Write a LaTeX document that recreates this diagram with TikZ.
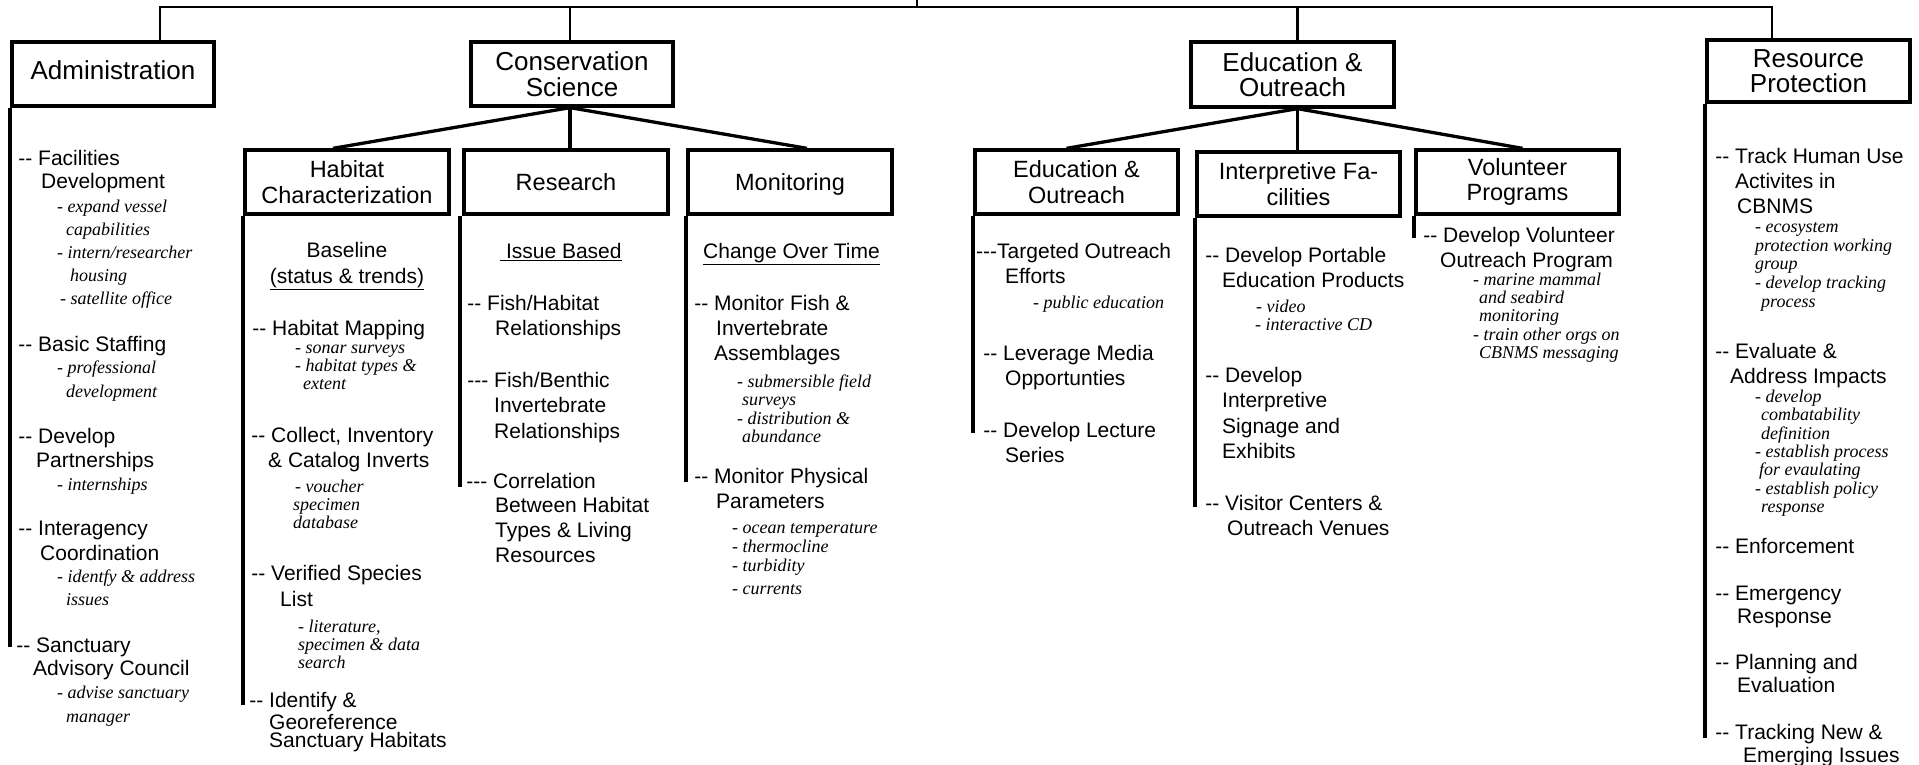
\documentclass[tikz,border=0pt]{standalone}
\usepackage{fontspec}
\setmainfont{Liberation Sans}
\newfontfamily\notefont{Liberation Serif}
\begin{document}
\begin{tikzpicture}[x=1pt,y=-1pt,
  ttl/.style={draw, line width=3.3pt, inner sep=0pt, align=center, font=\fontsize{26}{25.5}\selectfont},
  sttl/.style={draw, line width=3.3pt, inner sep=0pt, align=center, minimum width=203pt, minimum height=64pt, font=\fontsize{23.5}{25.5}\selectfont},
  itm/.style={anchor=north west, inner sep=0pt, align=left, font=\fontsize{21}{#1}\selectfont, yshift={0.7*#1*1pt}},
  itm/.default=25,
  hd/.style={anchor=north, inner sep=0pt, align=center, font=\fontsize{21}{#1}\selectfont, yshift={0.7*#1*1pt}},
  hd/.default=26,
  note/.style={anchor=north west, inner sep=0pt, align=left, font=\notefont\itshape\fontsize{18}{#1}\selectfont, yshift={0.7*#1*1pt}},
  note/.default=18.5,
  conn/.style={line width=3.3pt},
  drop/.style={line width=2.8pt},
  stem/.style={line width=4.2pt},
  topline/.style={line width=2.8pt}]
\useasboundingbox (0,0) rectangle (1919,765);

% ---------- top level boxes
\node[ttl, minimum width=202pt, minimum height=64pt, text height=18.6pt, text depth=8pt] (adm) at (113,74) {Administration};
\node[ttl, minimum width=202pt, minimum height=64pt] (cons) at (572,74) {Conservation\\Science};
\node[ttl, minimum width=203pt, minimum height=65pt] (edu) at (1292.5,74.5) {Education \&\\Outreach};
\node[ttl, minimum width=203pt, minimum height=62pt] (rp) at (1808.5,71) {Resource\\Protection};

% ---------- second level boxes
\node[sttl, minimum width=204pt] (hab) at (347,182) {Habitat\\Characterization};
\node[sttl, minimum width=204pt] (res) at (566,182) {Research};
\node[sttl, minimum width=204pt, text height=16.8pt, text depth=0pt] (mon) at (790,182) {Monitoring};
\node[sttl] (edus) at (1076.5,182) {Education \&\\Outreach};
\node[sttl] (int) at (1298.5,184) {Interpretive Fa-\\cilities};
\node[sttl] (vol) at (1517.5,182) {Volunteer\\Programs};

% ---------- top connector
\coordinate (tstub) at (917,0);
\coordinate (tj) at (917,7);
\coordinate (tl) at (160,7);
\coordinate (tr) at (1772,7);
\draw[topline, line cap=rect] (tl) -- (tr);
\draw[drop] (tstub) -- (tj);
\draw[drop] (tl) -- (tl |- adm.north);
\draw[drop] ([xshift=-2pt]cons.north |- tl) -- ([xshift=-2pt]cons.north);
\draw[drop] ([xshift=5pt]edu.north |- tl) -- ([xshift=5pt]edu.north);
\draw[drop] (tr) -- (tr |- rp.north);

% ---------- branches
\draw[conn] ([xshift=-2pt]cons.south) -- ([xshift=-14pt]hab.north);
\draw[conn] ([xshift=-2pt]cons.south) -- ([xshift=-2pt]cons.south |- res.north);
\draw[conn] ([xshift=-2pt]cons.south) -- ([xshift=17pt]mon.north);
\draw[conn] ([xshift=5pt]edu.south) -- ([xshift=-10pt]edus.north);
\draw[conn] ([xshift=5pt]edu.south) -- ([xshift=5pt]edu.south |- int.north);
\draw[conn] ([xshift=5pt]edu.south) -- ([xshift=5pt]vol.north);

% ---------- stems
\coordinate (admE) at (0,647);
\coordinate (habE) at (0,705);
\coordinate (resE) at (0,487);
\coordinate (monE) at (0,482);
\coordinate (edusE) at (0,433);
\coordinate (intE) at (0,507);
\coordinate (volE) at (0,238);
\coordinate (rpE) at (0,738);
\draw[stem] (adm.south west) -- (adm.south west |- admE);
\draw[stem] (hab.south west) -- (hab.south west |- habE);
\draw[stem] ([xshift=-2pt]res.south west) -- ([xshift=-2pt]res.south west |- resE);
\draw[stem] (mon.south west) -- (mon.south west |- monE);
\draw[stem] (edus.south west) -- (edus.south west |- edusE);
\draw[stem] (int.south west) -- (int.south west |- intE);
\draw[stem] (vol.south west) -- (vol.south west |- volE);
\draw[stem] (rp.south west) -- (rp.south west |- rpE);

% ---------- Administration
\node[itm=23.5] (a1) at (38,165) {\strut\llap{-{}- }Facilities\\\hspace{3pt}Development};
\node[note=23] (a1n) at (57,212) {\strut- expand vessel\\\hspace{9pt}capabilities\\- intern/researcher\\\hspace{13pt}housing\\\hspace{3pt}- satellite office};
\node[itm] (a2) at (38,351) {\strut\llap{-{}- }Basic Staffing};
\node[note=24] (a2n) at (57,373) {\strut- professional\\\hspace{9pt}development};
\node[itm=24] (a3) at (38,443) {\strut\llap{-{}- }Develop\\\hspace{-2pt}Partnerships};
\node[note] (a3n) at (57,490) {\strut- internships};
\node[itm] (a4) at (38,535) {\strut\llap{-{}- }Interagency\\\hspace{2pt}Coordination};
\node[note=23] (a4n) at (57,582) {\strut- identfy \& address\\\hspace{9pt}issues};
\node[itm=23] (a5) at (36,652) {\strut\llap{-{}- }Sanctuary\\\hspace{-3pt}Advisory Council};
\node[note=24] (a5n) at (57,698) {\strut- advise sanctuary\\\hspace{9pt}manager};

% ---------- Habitat Characterization
\node[hd] (hb) at (347,257) {\strut Baseline\\\underline{(status \& trends)}};
\node[itm] (h1) at (272,335) {\strut\llap{-{}- }Habitat Mapping};
\node[note=18] (h1n) at (295,353) {\strut- sonar surveys\\- habitat types \&\\\hspace{8pt}extent};
\node[itm] (h2) at (271,442) {\strut\llap{-{}- }Collect, Inventory\\\hspace{-3pt}\& Catalog Inverts};
\node[note=18] (h2n) at (295,492) {\strut- voucher\\\hspace{-2pt}specimen\\\hspace{-2pt}database};
\node[itm=26] (h3) at (271,580) {\strut\llap{-{}- }Verified Species\\\hspace{9pt}List};
\node[note=18] (h3n) at (298,632) {\strut- literature,\\specimen \& data\\search};
\node[itm=18.5] (h4) at (269,705) {\strut\llap{-{}- }Identify \&\\Georeference\\Sanctuary Habitats};

% ---------- Research
\node[itm] (rb) at (500,258) {\strut\underline{\ Issue Based}};
\node[itm] (r1) at (487,310) {\strut\llap{-{}- }Fish/Habitat\\\hspace{8pt}Relationships};
\node[itm=25.5] (r2) at (494,387) {\strut\llap{-{}-{}- }Fish/Benthic\\Invertebrate\\Relationships};
\node[itm=24.7] (r3) at (493,488) {\strut\llap{-{}-{}- }Correlation\\\hspace{2pt}Between Habitat\\\hspace{2pt}Types \& Living\\\hspace{2pt}Resources};

% ---------- Monitoring
\node[itm] (mb) at (703,258) {\strut\underline{Change Over Time}};
\node[itm] (m1) at (714,310) {\strut\llap{-{}- }Monitor Fish \&\\\hspace{2pt}Invertebrate\\Assemblages};
\node[note=18.5] (m1n) at (737,387) {\strut- submersible field\\\hspace{5pt}surveys\\- distribution \&\\\hspace{5pt}abundance};
\node[itm] (m2) at (714,483) {\strut\llap{-{}- }Monitor Physical\\\hspace{2pt}Parameters};
\node[note=19] (m2n) at (732,533) {\strut- ocean temperature\\- thermocline\\- turbidity\\[4pt]- currents};

% ---------- Education & Outreach (sub)
\node[itm] (e1) at (997,258) {\strut\llap{-{}-{}-}Targeted Outreach\\\hspace{8pt}Efforts};
\node[note] (e1n) at (1033,308) {\strut- public education};
\node[itm] (e2) at (1003,360) {\strut\llap{-{}- }Leverage Media\\\hspace{2pt}Opportunties};
\node[itm] (e3) at (1003,437) {\strut\llap{-{}- }Develop Lecture\\\hspace{2pt}Series};

% ---------- Interpretive Facilities
\node[itm] (i1) at (1225,262) {\strut\llap{-{}- }Develop Portable\\\hspace{-3pt}Education Products};
\node[note=18] (i1n) at (1256,312) {\strut- video\\\hspace{-1pt}- interactive CD};
\node[itm=25.5] (i2) at (1225,382) {\strut\llap{-{}- }Develop\\\hspace{-3pt}Interpretive\\\hspace{-3pt}Signage and\\\hspace{-3pt}Exhibits};
\node[itm] (i3) at (1225,510) {\strut\llap{-{}- }Visitor Centers \&\\\hspace{2pt}Outreach Venues};

% ---------- Volunteer Programs
\node[itm] (v1) at (1443,242) {\strut\llap{-{}- }Develop Volunteer\\\hspace{-3pt}Outreach Program};
\node[note=18.3] (v1n) at (1473,285) {\strut- marine mammal\\\hspace{6pt}and seabird\\\hspace{6pt}monitoring\\- train other orgs on\\\hspace{6pt}CBNMS messaging};

% ---------- Resource Protection
\node[itm] (p1) at (1735,163) {\strut\llap{-{}- }Track Human Use\\Activites in\\\hspace{2pt}CBNMS};
\node[note=18.8] (p1n) at (1755,232) {\strut- ecosystem\\protection working\\group\\- develop tracking\\\hspace{6pt}process};
\node[itm] (p2) at (1735,358) {\strut\llap{-{}- }Evaluate \&\\\hspace{-5pt}Address Impacts};
\node[note=18.4] (p2n) at (1755,402) {\strut- develop\\\hspace{6pt}combatability\\\hspace{6pt}definition\\- establish process\\\hspace{4pt}for evaulating\\- establish policy\\\hspace{6pt}response};
\node[itm] (p3) at (1735,553) {\strut\llap{-{}- }Enforcement};
\node[itm=23] (p4) at (1735,600) {\strut\llap{-{}- }Emergency\\\hspace{2pt}Response};
\node[itm=23] (p5) at (1735,669) {\strut\llap{-{}- }Planning and\\\hspace{2pt}Evaluation};
\node[itm=23] (p6) at (1735,739) {\strut\llap{-{}- }Tracking New \&\\\hspace{8pt}Emerging Issues};
\end{tikzpicture}
\end{document}
